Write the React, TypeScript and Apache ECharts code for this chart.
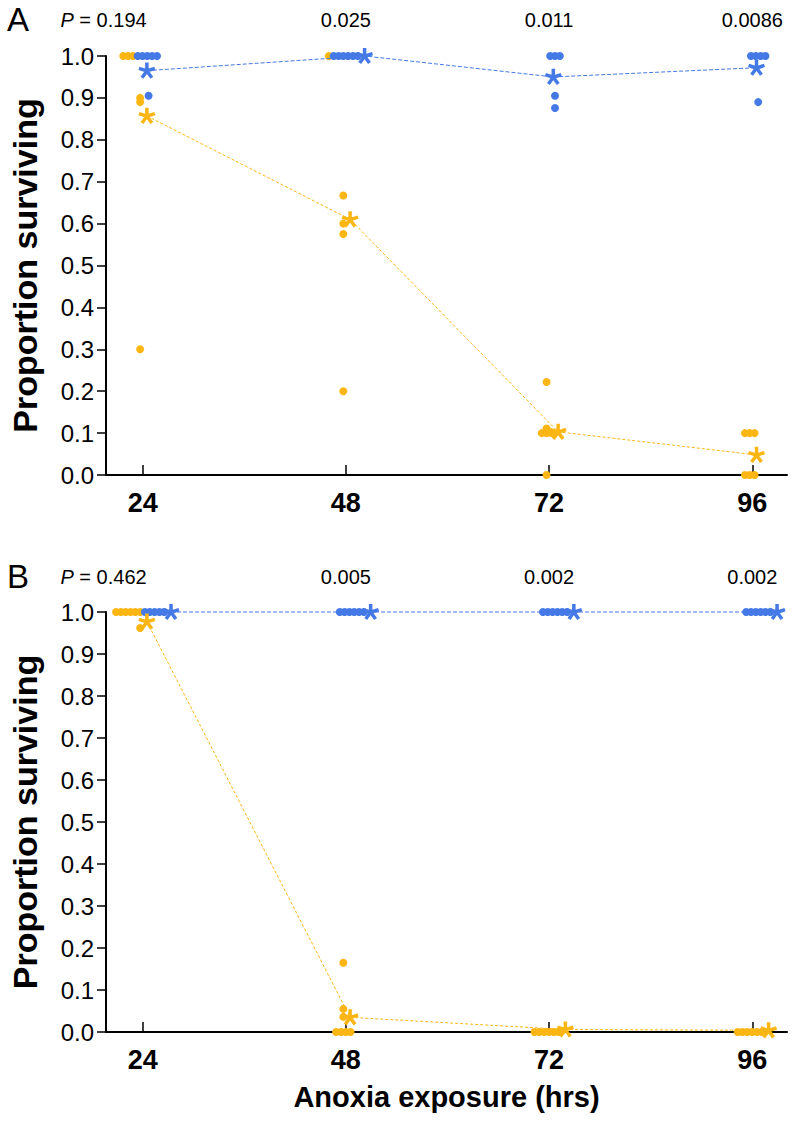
import React, { useEffect, useRef } from "react";
import * as echarts from "echarts";

const times = [24, 48, 72, 96];
const pLabelsA = ["0.194", "0.025", "0.011", "0.0086"];
const pLabelsB = ["0.462", "0.005", "0.002", "0.002"];

// Panel A (yellow = species 1, blue = species 2)
const aYellow = [
  [1, 1, 1, 0.9, 0.89, 0.3],
  [1, 0.667, 0.6, 0.575, 0.2],
  [0.222, 0.111, 0.1, 0.1, 0.1, 0],
  [0.1, 0.1, 0.1, 0, 0, 0],
];
const aYellowMean = [0.857, 0.61, 0.103, 0.048];
const aBlue = [
  [1, 1, 1, 1, 1, 0.905],
  [1, 1, 1, 1, 1, 1],
  [1, 1, 1, 0.905, 0.876],
  [1, 1, 1, 1, 0.89],
];
const aBlueMean = [0.965, 1.0, 0.95, 0.972];

// Panel B
const bYellow = [
  [1, 1, 1, 1, 1, 1, 0.962],
  [0.165, 0.055, 0.036, 0, 0, 0, 0],
  [0, 0, 0, 0, 0, 0],
  [0, 0, 0, 0, 0, 0],
];
const bYellowMean = [0.977, 0.035, 0.006, 0.004];
const bBlue = [
  [1, 1, 1, 1, 1],
  [1, 1, 1, 1, 1, 1],
  [1, 1, 1, 1, 1, 1],
  [1, 1, 1, 1, 1, 1],
];
const bBlueMean = [1, 1, 1, 1];

const YELLOW = "#FBB614";
const BLUE = "#4479E6";
const FONT = "'Liberation Sans', Arial, Helvetica, sans-serif";

function asteriskPath(): string {
  const arms = 5;
  const cx = 10, cy = 10, L = 10, w = 2.1;
  let d = "";
  for (let k = 0; k < arms; k++) {
    const a = -Math.PI / 2 + (k * 2 * Math.PI) / arms;
    const ux = Math.cos(a), uy = Math.sin(a);
    const px = -uy * w, py = ux * w;
    const pts = [
      [cx + px, cy + py],
      [cx + ux * L + px, cy + uy * L + py],
      [cx + ux * L - px, cy + uy * L - py],
      [cx - px, cy - py],
    ];
    d += "M" + pts.map((p) => p[0].toFixed(2) + " " + p[1].toFixed(2)).join(" L") + " Z ";
  }
  return "path://" + d;
}
const AST = asteriskPath();

type Pt = { v: number; g: number };

function layout(yel: number[][], blu: number[][], yMean: number[], bMean: number[]) {
  const sp = 0.57;
  const yDots: number[][] = [];
  const bDots: number[][] = [];
  const yM: number[][] = [];
  const bM: number[][] = [];
  times.forEach((t, ti) => {
    const pts: Pt[] = [
      ...yel[ti].map((v) => ({ v, g: 0 })),
      ...blu[ti].map((v) => ({ v, g: 1 })),
    ];
    const clusters: Pt[][] = [];
    pts.forEach((p) => {
      const c = clusters.find((c) => Math.abs(c[0].v - p.v) < 0.005);
      if (c) c.push(p);
      else clusters.push([p]);
    });
    const placed: { x: number; v: number; g: number }[] = [];
    clusters.forEach((c) => {
      const hasY = c.some((p) => p.g === 0);
      const hasB = c.some((p) => p.g === 1);
      const shift = hasY && hasB ? -0.3 : hasY ? -0.3 : 0.7;
      c.forEach((p, i) => {
        const x = t + shift + (i - (c.length - 1) / 2) * sp;
        placed.push({ x, v: p.v, g: p.g });
        (p.g === 0 ? yDots : bDots).push([x, p.v]);
      });
    });
    const meanX = (g: number, m: number) => {
      const near = placed.filter((p) => p.g === g && Math.abs(p.v - m) < 0.02);
      if (near.length) return Math.max(...near.map((p) => p.x)) + 0.8;
      return t + 0.5;
    };
    yM.push([meanX(0, yMean[ti]), yMean[ti]]);
    bM.push([meanX(1, bMean[ti]), bMean[ti]]);
  });
  return { yDots, bDots, yM, bM };
}

export default function App() {
  const ref = useRef<HTMLDivElement>(null);
  useEffect(() => {
    if (!ref.current) return;
    const chart = echarts.init(ref.current, undefined, { renderer: "svg" });
    const A = layout(aYellow, aBlue, aYellowMean, aBlueMean);
    const B = layout(bYellow, bBlue, bYellowMean, bBlueMean);

    const grids = [
      { left: 100, top: 56, width: 687, height: 419 },
      { left: 100, top: 612, width: 687, height: 420 },
    ];
    const xAxis = [0, 1].map((i) => ({
      type: "value",
      gridIndex: i,
      min: 19.67,
      max: 100.1,
      splitLine: { show: false },
      axisLine: { show: true, lineStyle: { color: "#000", width: 2 } },
      axisTick: {
        show: true,
        customValues: times,
        inside: true,
        length: 10,
        lineStyle: { color: "#000", width: 1.5 },
      },
      axisLabel: {
        customValues: times,
        fontFamily: FONT,
        fontWeight: "bold",
        fontSize: 27,
        color: "#000",
        margin: 14,
      },
      name: i === 1 ? "Anoxia exposure (hrs)" : "",
      nameLocation: "middle",
      nameGap: 50,
      nameTextStyle: { fontFamily: FONT, fontWeight: "bold", fontSize: 29, color: "#000" },
    }));
    const yAxis = [0, 1].map((i) => ({
      type: "value",
      gridIndex: i,
      min: 0,
      max: 1,
      interval: 0.1,
      splitLine: { show: false },
      axisLine: { show: true, lineStyle: { color: "#000", width: 2 } },
      axisTick: { show: true, length: 9, lineStyle: { color: "#000", width: 1.5 } },
      axisLabel: {
        fontFamily: FONT,
        fontSize: 24,
        color: "#000",
        margin: 12,
        formatter: (v: number) => v.toFixed(1),
      },
      name: "Proportion surviving",
      nameLocation: "middle",
      nameGap: 64,
      nameTextStyle: { fontFamily: FONT, fontWeight: "bold", fontSize: 34, color: "#000" },
    }));

    const dotSeries = (data: number[][], color: string, idx: number) => ({
      type: "scatter",
      xAxisIndex: idx,
      yAxisIndex: idx,
      data,
      symbol: "circle",
      symbolSize: 8,
      clip: false,
      itemStyle: { color, opacity: 1 },
      z: 3,
    });
    const meanSeries = (data: number[][], color: string, idx: number, dash: number[]) => ({
      type: "line",
      xAxisIndex: idx,
      yAxisIndex: idx,
      data,
      symbol: AST,
      symbolSize: 17,
      symbolKeepAspect: true,
      showSymbol: true,
      clip: false,
      itemStyle: { color, opacity: 1 },
      lineStyle: { color, width: 1, type: dash },
      z: 4,
    });

    chart.setOption({
      animation: false,
      backgroundColor: "#fff",
      grid: grids,
      xAxis,
      yAxis,
      series: [
        meanSeries(A.bM, BLUE, 0, [4, 2]),
        meanSeries(A.yM, YELLOW, 0, [3, 2]),
        dotSeries(A.yDots, YELLOW, 0),
        dotSeries(A.bDots, BLUE, 0),
        meanSeries(B.bM, BLUE, 1, [4, 2]),
        meanSeries(B.yM, YELLOW, 1, [3, 2]),
        dotSeries(B.yDots, YELLOW, 1),
        dotSeries(B.bDots, BLUE, 1),
      ],
    });

    const pText = (labels: string[], gi: number, yPix: number) =>
      labels.map((lab, i) => {
        const px = chart.convertToPixel({ xAxisIndex: gi, yAxisIndex: gi } as any, [times[i], 0.5]) as number[];
        const first = i === 0;
        return {
          type: "text",
          x: first ? px[0] + 4 : px[0],
          y: yPix,
          style: {
            text: first ? "{i|P} = " + lab : lab,
            rich: { i: { fontStyle: "italic", fontFamily: FONT, fontSize: 20, fill: "#000" } },
            fontFamily: FONT,
            fontSize: 20,
            fill: "#000",
            align: first ? "right" : "center",
            verticalAlign: "middle",
          },
        };
      });

    chart.setOption({
      graphic: [
        { type: "text", left: 7, top: 3, style: { text: "A", fontFamily: FONT, fontSize: 33, fill: "#000" } },
        { type: "text", left: 7, top: 560, style: { text: "B", fontFamily: FONT, fontSize: 33, fill: "#000" } },
        ...pText(pLabelsA, 0, 20),
        ...pText(pLabelsB, 1, 577),
      ],
    });
    return () => chart.dispose();
  }, []);
  return (
    <div
      ref={ref}
      style={{ position: "absolute", left: 0, top: 0, width: 796, height: 1124, background: "#fff" }}
    />
  );
}
